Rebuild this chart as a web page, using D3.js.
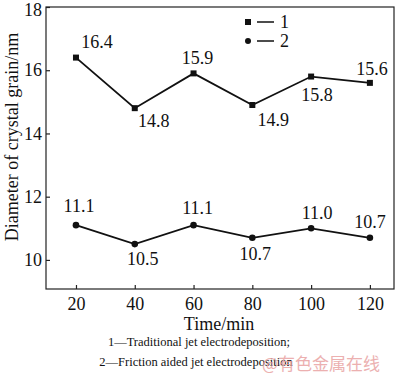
<!DOCTYPE html>
<html>
<head>
<meta charset="utf-8">
<script src="https://cdn.jsdelivr.net/npm/d3@7"></script>
<style>
  body { margin: 0; background: #fff; }
  text { font-family: "Liberation Serif", "Times New Roman", Times, serif; fill: #111; }
</style>
</head>
<body>
<div id="chart"></div>
<script>
// Data
const times = [20, 40, 60, 80, 100, 120];
const traditional = [16.4, 14.8, 15.9, 14.9, 15.8, 15.6];
const friction = [11.1, 10.5, 11.1, 10.7, 11.0, 10.7];
const traditionalLabels = ["16.4", "14.8", "15.9", "14.9", "15.8", "15.6"];
const frictionLabels = ["11.1", "10.5", "11.1", "10.7", "11.0", "10.7"];
const xTicks = [20, 40, 60, 80, 100, 120];
const yTicks = [10, 12, 14, 16, 18];

// label placement (offsets from the point, px)
const tradOffsets = [[21, -10], [19, 19], [4, -9], [21, 21], [6, 24], [2, -8]];
const fricOffsets = [[3, -13], [8, 21], [4, -11], [3, 22], [6, -9], [0, -10]];

const width = 400, height = 377;
const margin = { top: 7, right: 6, bottom: 88, left: 46 };
const serif = "'Liberation Serif', 'Times New Roman', Times, serif";

const svg = d3.select("#chart").append("svg")
  .attr("width", width)
  .attr("height", height);

const x = d3.scaleLinear().domain([9.8, 128.2]).range([margin.left, width - margin.right]);
const y = d3.scaleLinear().domain([9.08, 18]).range([height - margin.bottom, margin.top]);

// Frame
svg.append("rect")
  .attr("x", margin.left)
  .attr("y", margin.top)
  .attr("width", width - margin.left - margin.right)
  .attr("height", height - margin.top - margin.bottom)
  .attr("fill", "none")
  .attr("stroke", "#222")
  .attr("stroke-width", 1.2);

// Axes, ticks pointing inward
const xAxis = svg.append("g")
  .attr("transform", `translate(0,${height - margin.bottom})`)
  .call(d3.axisBottom(x).tickValues(xTicks).tickSizeInner(-4).tickSizeOuter(0).tickPadding(8));
const yAxis = svg.append("g")
  .attr("transform", `translate(${margin.left},0)`)
  .call(d3.axisLeft(y).tickValues(yTicks).tickSizeInner(-4).tickSizeOuter(0).tickPadding(4));

[xAxis, yAxis].forEach(a => {
  a.select(".domain").remove();
  a.selectAll(".tick line").attr("stroke", "#222").attr("stroke-width", 1.2);
  a.selectAll(".tick text")
    .attr("font-size", 18)
    .style("font-family", serif)
    .attr("fill", "#111");
});
// keep the top label inside the picture
yAxis.selectAll(".tick text").filter(d => d === 18).attr("dy", "0.45em");

// Axis titles
svg.append("text")
  .attr("x", 219)
  .attr("y", 330)
  .attr("text-anchor", "middle")
  .attr("font-size", 18)
  .text("Time/min");

svg.append("text")
  .attr("transform", `translate(18,${137}) rotate(-90)`)
  .attr("text-anchor", "middle")
  .attr("font-size", 18)
  .text("Diameter of crystal grain/nm");

// Lines
const line = d3.line().x((d, i) => x(times[i])).y(d => y(d));

[traditional, friction].forEach(series => {
  svg.append("path")
    .datum(series)
    .attr("d", line)
    .attr("fill", "none")
    .attr("stroke", "#111")
    .attr("stroke-width", 1.8);
});

// Markers
svg.append("g").selectAll("rect")
  .data(traditional)
  .enter().append("rect")
  .attr("x", (d, i) => x(times[i]) - 3)
  .attr("y", d => y(d) - 3)
  .attr("width", 6)
  .attr("height", 6)
  .attr("fill", "#111");

svg.append("g").selectAll("circle")
  .data(friction)
  .enter().append("circle")
  .attr("cx", (d, i) => x(times[i]))
  .attr("cy", d => y(d))
  .attr("r", 3.3)
  .attr("fill", "#111");

// Value labels
svg.append("g").selectAll("text")
  .data(traditional)
  .enter().append("text")
  .attr("x", (d, i) => x(times[i]) + tradOffsets[i][0])
  .attr("y", (d, i) => y(d) + tradOffsets[i][1])
  .attr("text-anchor", "middle")
  .attr("font-size", 18)
  .text((d, i) => traditionalLabels[i]);

svg.append("g").selectAll("text")
  .data(friction)
  .enter().append("text")
  .attr("x", (d, i) => x(times[i]) + fricOffsets[i][0])
  .attr("y", (d, i) => y(d) + fricOffsets[i][1])
  .attr("text-anchor", "middle")
  .attr("font-size", 18)
  .text((d, i) => frictionLabels[i]);

// Legend
const legend = svg.append("g").attr("transform", "translate(248,22)");
const legendItems = [["square", "1"], ["circle", "2"]];
legendItems.forEach(([shape, label], i) => {
  const g = legend.append("g").attr("transform", `translate(0,${i * 19})`);
  if (shape === "square") {
    g.append("rect").attr("x", -3).attr("y", -3).attr("width", 6).attr("height", 6).attr("fill", "#111");
  } else {
    g.append("circle").attr("r", 3).attr("fill", "#111");
  }
  g.append("line").attr("x1", 9).attr("x2", 26).attr("y1", 0).attr("y2", 0)
    .attr("stroke", "#111").attr("stroke-width", 1.5);
  g.append("text").attr("x", 32).attr("y", 6).attr("font-size", 18).text(label);
});

// Caption
svg.append("text")
  .attr("x", 199)
  .attr("y", 346)
  .attr("text-anchor", "middle")
  .attr("font-size", 12.5)
  .text("1\u2014Traditional jet electrodeposition;");

svg.append("text")
  .attr("x", 196)
  .attr("y", 366)
  .attr("text-anchor", "middle")
  .attr("font-size", 12.5)
  .text("2\u2014Friction aided jet electrodeposition");

// Watermark (overlaps the caption as in the original)
svg.append("text")
  .attr("x", 262)
  .attr("y", 370)
  .attr("font-size", 17)
  .style("font-family", "'Noto Sans CJK SC', sans-serif")
  .style("fill", "#e9a3a3")
  .style("opacity", 0.85)
  .text("@有色金属在线");
</script>
</body>
</html>
